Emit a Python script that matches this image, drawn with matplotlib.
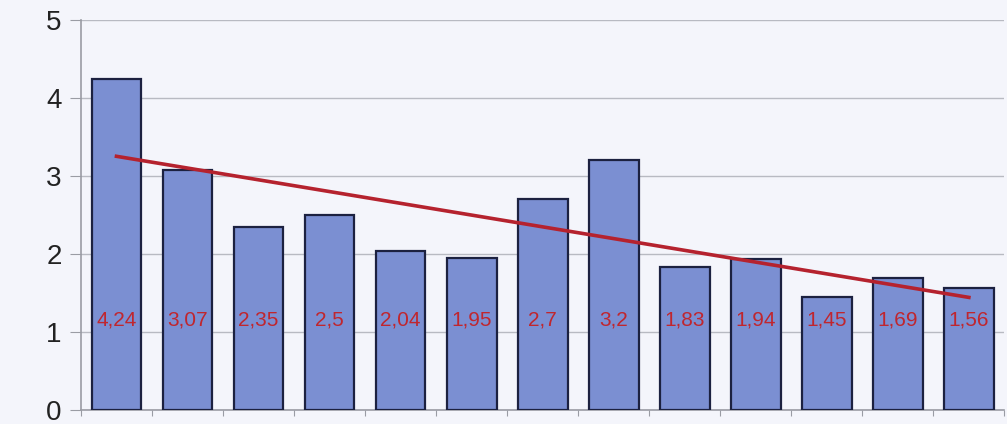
import numpy as np
import matplotlib.pyplot as plt

values = [4.24, 3.07, 2.35, 2.5, 2.04, 1.95, 2.7, 3.2, 1.83, 1.94, 1.45, 1.69, 1.56]
labels = ['4,24', '3,07', '2,35', '2,5', '2,04', '1,95', '2,7', '3,2', '1,83', '1,94', '1,45', '1,69', '1,56']

plt.rcParams['font.family'] = ['Liberation Sans', 'DejaVu Sans']

x = np.arange(len(values))

fig = plt.figure(figsize=(10.07, 4.24), dpi=100)
fig.patch.set_facecolor('#f4f5fb')
ax = fig.add_axes([0.0804, 0.033, 0.917, 0.92])
ax.set_facecolor('#f4f5fb')

ax.bar(x, values, width=0.7, color='#7b8fd2', edgecolor='#1c2140', linewidth=1.6, zorder=3)

# linear trend
k, b = np.polyfit(x, values, 1)
ax.plot(x, k * x + b, color='#b5222e', linewidth=2.6, zorder=4)

for xi, lab in zip(x, labels):
    ax.text(xi, 1.15, lab, color='#c0262e', fontsize=15, ha='center', va='center', zorder=5)

ax.set_xlim(-0.5, len(values) - 0.5)
ax.set_ylim(0, 5)
ax.set_yticks(range(0, 6))
ax.yaxis.grid(True, color='#b8bac2', linewidth=1.0, zorder=0)
ax.set_xticks(np.arange(-0.5, len(values), 1.0))
ax.set_xticklabels([])
ax.tick_params(axis='x', length=4, color='#9a9ca4', direction='out')
ax.tick_params(axis='y', length=8, color='#9a9ca4', labelsize=20, pad=6, labelcolor='#222222')

for s in ['top', 'right']:
    ax.spines[s].set_visible(False)
for s in ['left', 'bottom']:
    ax.spines[s].set_color('#9a9ca4')
    ax.spines[s].set_linewidth(1.2)

fig.savefig('out.png', dpi=100, facecolor=fig.get_facecolor())
